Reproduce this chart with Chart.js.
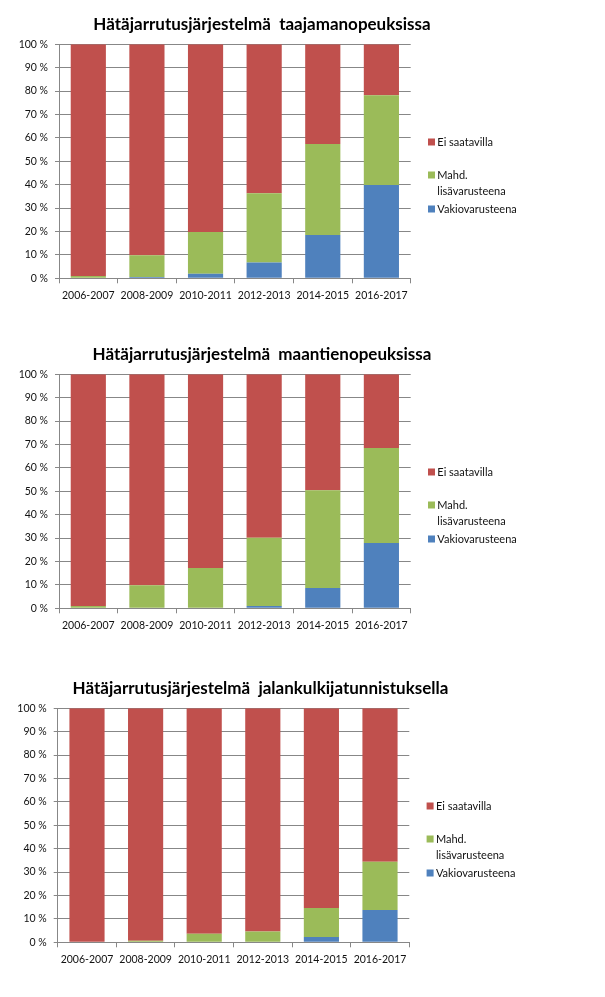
<!DOCTYPE html>
<html><head><meta charset="utf-8">
<script src="https://cdn.jsdelivr.net/npm/chart.js@4"></script>
<style>
html,body{margin:0;padding:0;background:#fff;width:605px;height:997px;overflow:hidden;position:relative}
.c{position:absolute}
</style></head><body>
<div class="c" style="left:-40px;top:0px;width:604px;height:310px"><canvas id="c1"></canvas></div>
<div class="c" style="left:-40px;top:330px;width:604px;height:310px"><canvas id="c2"></canvas></div>
<div class="c" style="left:-41px;top:664.4px;width:603px;height:310px"><canvas id="c3"></canvas></div>
<script>
// ---- data ----
const categories = ['2006-2007','2008-2009','2010-2011','2012-2013','2014-2015','2016-2017'];
const yTickLabels = ['0 %','10 %','20 %','30 %','40 %','50 %','60 %','70 %','80 %','90 %','100 %'];
const seriesNames = ['Vakiovarusteena','Mahd. lisävarusteena','Ei saatavilla'];
const legendLines = [['Ei saatavilla'],['Mahd.','lisävarusteena'],['Vakiovarusteena']];
const titles = ['Hätäjarrutusjärjestelmä  taajamanopeuksissa','Hätäjarrutusjärjestelmä  maantienopeuksissa','Hätäjarrutusjärjestelmä  jalankulkijatunnistuksella'];

const urbanVakio = [0, 0.6, 1.9, 6.8, 18.5, 39.9];
const urbanMahd  = [1.0, 9.2, 17.9, 29.5, 38.9, 38.3];
const urbanEi    = [99.0, 90.2, 80.2, 63.7, 42.6, 21.8];

const ruralVakio = [0, 0, 0, 1.0, 8.7, 27.9];
const ruralMahd  = [1.0, 9.8, 17.2, 29.1, 41.7, 40.6];
const ruralEi    = [99.0, 90.2, 82.8, 69.9, 49.6, 31.5];

const pedVakio = [0, 0, 0, 0, 2.3, 13.8];
const pedMahd  = [0, 0.7, 3.7, 4.6, 12.4, 20.6];
const pedEi    = [100, 99.3, 96.3, 95.4, 85.3, 65.6];

// ---- styles ----
const COLORS = ['#4F81BD','#9BBB59','#C0504D'];
const GRID = '#878787';
const FONT = "Lato, 'Open Sans', sans-serif";
Chart.defaults.font.family = FONT;
Chart.defaults.color = '#111';

const sideLegend = {
  id: 'sideLegend',
  afterDraw(chart) {
    const {ctx, chartArea} = chart;
    const x0 = chartArea.right + 17.3;
    const items = [
      {ds: 2, ys: [97.7]},
      {ds: 1, ys: [130.7, 146.7]},
      {ds: 0, ys: [164.7]}
    ];
    ctx.save();
    ctx.font = '11px ' + FONT;
    ctx.textBaseline = 'middle';
    ctx.textAlign = 'left';
    items.forEach((it, k) => {
      const y0 = chartArea.top + it.ys[0];
      ctx.fillStyle = chart.data.datasets[it.ds].backgroundColor;
      ctx.fillRect(x0, y0 - 3.5, 7, 7);
      ctx.fillStyle = '#111';
      legendLines[k].forEach((t, j) => {
        ctx.fillText(t, x0 + 9.3, chartArea.top + it.ys[j]);
      });
    });
    ctx.restore();
  }
};

function makeChart(id, title, v, m, e, yWidth, padRight) {
  const series = [v, m, e];
  new Chart(document.getElementById(id), {
    type: 'bar',
    data: {
      labels: categories,
      datasets: series.map((d, i) => ({
        label: seriesNames[i],
        data: d,
        backgroundColor: COLORS[i],
        borderWidth: 0,
        barPercentage: 0.6,
        categoryPercentage: 1.0,
        yAxisID: 'y'
      }))
    },
    options: {
      responsive: true,
      maintainAspectRatio: false,
      animation: false,
      devicePixelRatio: 1,
      layout: {padding: 0},
      plugins: {
        legend: {display: false},
        tooltip: {enabled: false},
        title: {
          display: true,
          text: title,
          color: '#000',
          font: {size: 17, weight: 'bold', family: FONT, lineHeight: 1.2},
          padding: {top: 14, bottom: 44.3 - 14 - 20.4}
        }
      },
      scales: {
        x: {
          stacked: true,
          grid: {display: true, drawOnChartArea: false, drawTicks: true, tickLength: 5, color: GRID, offset: true},
          border: {display: true, color: GRID},
          ticks: {font: {size: 10.5}, color: '#111', padding: 6, maxRotation: 0, autoSkip: false},
          afterFit(s) { s.height = 31.7; }
        },
        y: {
          stacked: true,
          min: 0, max: 100,
          grid: {color: GRID, tickLength: 4},
          border: {display: true, color: GRID},
          ticks: {stepSize: 10, font: {size: 10.5}, color: '#111', padding: 7,
                  callback: (val, i) => yTickLabels[i]},
          afterFit(s) { s.width = yWidth; }
        },
        pad: {
          type: 'linear', position: 'right', display: true,
          grid: {display: false}, border: {display: false}, ticks: {display: false},
          afterFit(s) { s.width = padRight; }
        }
      }
    },
    plugins: [sideLegend]
  });
}

makeChart('c1', titles[0], urbanVakio, urbanMahd, urbanEi, 99, 153.3);
makeChart('c2', titles[1], ruralVakio, ruralMahd, ruralEi, 99, 153.3);
makeChart('c3', titles[2], pedVakio, pedMahd, pedEi, 98.7, 152.7);
</script>
</body></html>
